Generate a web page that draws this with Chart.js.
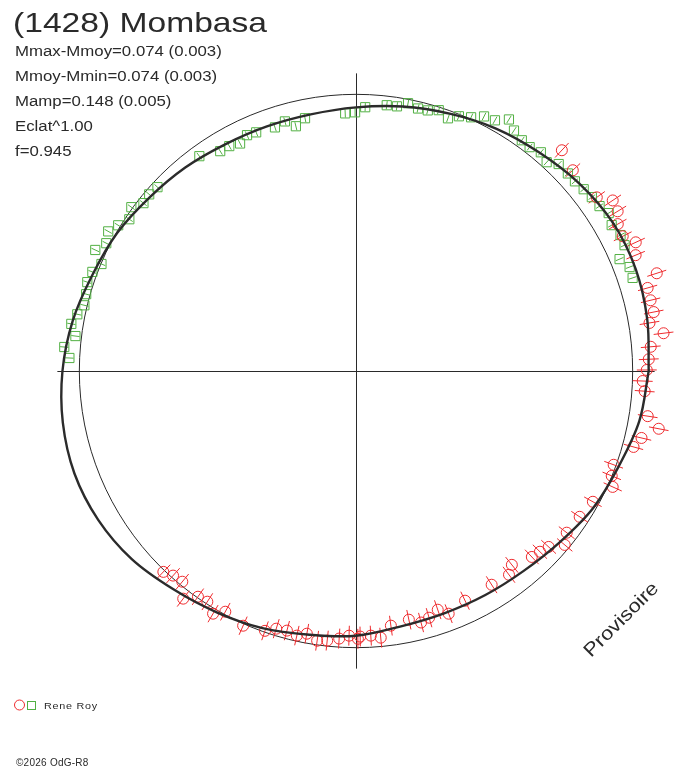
<!DOCTYPE html>
<html>
<head>
<meta charset="utf-8">
<script src="https://cdn.jsdelivr.net/npm/chart.js@4.4.1/dist/chart.umd.min.js"></script>
<style>
  html, body { margin: 0; padding: 0; background: #fff; overflow: hidden; }
  #wrap { width: 688px; height: 768px; }
  canvas { display: block; }
</style>
</head>
<body>
<div id="wrap"><canvas id="chart" width="688" height="768"></canvas></div>
<script>
// polar lightcurve: phase in degrees, radius relative to the mean-magnitude circle (=1)
const titleText = '(1428) Mombasa';
const statLines = ['Mmax-Mmoy=0.074 (0.003)', 'Mmoy-Mmin=0.074 (0.003)', 'Mamp=0.148 (0.005)', 'Eclat^1.00', 'f=0.945'];
const observer = 'Rene Roy';

// fitted curve, read every 10 degrees
const curvePhase = [0, 10, 20, 30, 40, 50, 60, 70, 80, 90, 100, 110, 120, 130, 140, 150, 160, 170,
  180, 190, 200, 210, 220, 230, 240, 250, 260, 270, 280, 290, 300, 310, 320, 330, 340, 350];
const curveRadius = [1.058, 1.069, 1.076, 1.072, 1.054, 1.031, 1.012, 0.990, 0.971, 0.953, 0.942, 0.941, 0.946, 0.960, 0.975, 0.997, 1.014, 1.040,
  1.061, 1.076, 1.083, 1.076, 1.058, 1.029, 1.007, 0.989, 0.968, 0.957, 0.937, 0.932, 0.935, 0.943, 0.962, 0.990, 1.010, 1.040];

// session 1 (green squares)
const greenPhase = [18.6, 20.8, 23.0, 25.1, 27.2, 29.7, 32.0, 34.1, 36.4, 38.6, 40.9, 43.0, 45.6, 47.6, 49.8, 52.2, 54.3, 56.7, 58.7, 61.0,
  63.3, 65.6, 68.0, 70.0, 72.4, 74.6, 76.7, 79.0, 81.2, 83.4, 88.0, 90.2, 92.4, 101.4, 103.8, 105.9, 108.4, 112.7, 114.8, 117.0,
  119.4, 121.7, 126.1, 137.2, 139.5, 141.7, 143.9, 146.2, 148.5, 150.6, 152.9, 155.1, 157.2, 159.4, 161.7, 164.1, 166.4, 168.5,
  170.6, 172.9, 175.3, 177.4];
const greenRadius = [1.055, 1.058, 1.035, 1.072, 1.075, 1.064, 1.077, 1.063, 1.059, 1.053, 1.047, 1.047, 1.047, 1.022, 1.035, 1.024, 1.027, 1.040, 1.064, 1.036,
  1.030, 1.007, 0.993, 0.972, 0.989, 0.977, 0.975, 0.986, 0.968, 0.967, 0.954, 0.935, 0.932, 0.932, 0.911, 0.938, 0.928, 0.935, 0.939, 0.923,
  0.933, 0.934, 0.961, 0.978, 0.983, 0.979, 1.005, 0.986, 1.008, 1.028, 1.014, 1.039, 0.998, 1.018, 1.023, 1.014, 1.010, 1.028,
  1.043, 1.022, 1.058, 1.037];
const greenError = 0.015;

// session 2 (red circles)
const redPhase = [0.2, 2.3, 4.7, 7.0, 9.3, 11.2, 13.5, 15.9, 18.0, 22.5, 24.7, 26.8, 29.3, 31.4, 33.6, 35.8, 42.8, 47.0,
  226.2, 228.2, 230.5, 232.8, 235.0, 237.2, 239.5, 241.5, 246.1, 250.7, 252.8, 255.1, 257.4, 259.4, 261.8, 263.9, 266.4, 268.5,
  270.4, 270.9, 273.2, 275.3, 277.8, 282.0, 284.5, 286.5, 288.9, 290.9, 295.4, 302.4, 306.9, 308.8, 313.4, 315.5, 317.6, 320.2,
  322.5, 326.9, 331.1, 335.7, 337.7, 340.0, 344.7, 346.8, 349.2, 351.2, 356.0, 358.0];
const redRadius = [1.051, 1.059, 1.069, 1.120, 1.075, 1.097, 1.095, 1.096, 1.143, 1.094, 1.113, 1.080, 1.085, 1.108, 1.114, 1.073, 1.068, 1.091,
  1.006, 0.992, 0.987, 1.033, 0.996, 0.992, 1.018, 0.990, 1.007, 0.995, 0.975, 0.971, 0.980, 0.966, 0.985, 0.980, 0.969, 0.957,
  0.968, 0.960, 0.958, 0.968, 0.929, 0.919, 0.939, 0.930, 0.912, 0.939, 0.919, 0.915, 0.921, 0.899, 0.925, 0.932, 0.943, 0.982,
  0.960, 0.965, 0.978, 1.018, 0.999, 0.991, 1.040, 1.060, 1.114, 1.067, 1.046, 1.037];
const redError = 0.036;

// how far the two axis lines reach, in radius units
const axisReachX = 1.0794;
const axisReachY = 1.0758;

const GREEN = '#52b043';
const RED = '#ee2b2e';
const INK = '#2a2a2a';
const FONT = '"Liberation Sans", Arial, sans-serif';

const toXY = (phase, radius) => phase.map((p, i) => {
  const a = p * Math.PI / 180;
  return { x: radius[i] * Math.cos(a), y: radius[i] * Math.sin(a) };
});

const curvePoints = toXY(curvePhase, curveRadius);
curvePoints.push(curvePoints[0]);

function drawText(ctx, s, x, y, size, stretch, spacing, angle) {
  ctx.save();
  ctx.translate(x, y);
  if (angle) ctx.rotate(angle);
  ctx.scale(stretch, 1);
  ctx.font = size + 'px ' + FONT;
  ctx.letterSpacing = spacing + 'px';
  ctx.fillStyle = INK;
  ctx.textBaseline = 'alphabetic';
  ctx.fillText(s, 0, 0);
  ctx.restore();
}

const polarFrame = {
  id: 'polarFrame',
  beforeDatasetsDraw(chart) {
    const { ctx, scales: { x, y } } = chart;
    const cx = x.getPixelForValue(0), cy = y.getPixelForValue(0);
    ctx.save();
    ctx.strokeStyle = INK;
    ctx.lineWidth = 1;
    ctx.beginPath();
    ctx.moveTo(x.getPixelForValue(-axisReachX), cy + 0.5);
    ctx.lineTo(x.getPixelForValue(axisReachX), cy + 0.5);
    ctx.moveTo(cx + 0.5, y.getPixelForValue(axisReachY));
    ctx.lineTo(cx + 0.5, y.getPixelForValue(-axisReachY));
    ctx.stroke();
    // mean magnitude circle
    ctx.beginPath();
    ctx.ellipse(cx, cy, x.getPixelForValue(1) - cx, cy - y.getPixelForValue(1), 0, 0, Math.PI * 2);
    ctx.stroke();
    // radial error bars
    chart.data.datasets.forEach(ds => {
      if (!ds.phase) return;
      ctx.strokeStyle = ds.borderColor;
      ctx.beginPath();
      ds.phase.forEach((p, i) => {
        const t = p * Math.PI / 180, r = ds.radius[i];
        const r0 = r - ds.err, r1 = r + ds.err;
        ctx.moveTo(x.getPixelForValue(r0 * Math.cos(t)), y.getPixelForValue(r0 * Math.sin(t)));
        ctx.lineTo(x.getPixelForValue(r1 * Math.cos(t)), y.getPixelForValue(r1 * Math.sin(t)));
      });
      ctx.stroke();
    });
    ctx.restore();
  },
  afterDraw(chart) {
    const ctx = chart.ctx;
    drawText(ctx, titleText, 13, 32, 28, 1.2, 0, 0);
    statLines.forEach((s, i) => drawText(ctx, s, 15, 56 + i * 25, 14, 1.2, 0, 0));
    drawText(ctx, 'Provisoire', 591, 658, 19, 1.15, 0, -Math.PI / 4);

    // legend
    ctx.save();
    ctx.lineWidth = 1;
    ctx.strokeStyle = RED;
    ctx.beginPath();
    ctx.arc(19.5, 705, 5, 0, Math.PI * 2);
    ctx.stroke();
    ctx.strokeStyle = GREEN;
    ctx.strokeRect(27.5, 701.5, 8, 8);
    ctx.restore();
    drawText(ctx, observer, 44, 709, 9, 1.2, 0.6, 0);
    drawText(ctx, '\u00a92026 OdG-R8', 16, 766, 10, 1, 0.25, 0);
  }
};

new Chart(document.getElementById('chart'), {
  type: 'scatter',
  data: {
    datasets: [
      {
        label: 'fit',
        type: 'line',
        data: curvePoints,
        borderColor: '#2b2b2b',
        borderWidth: 2.4,
        pointRadius: 0,
        tension: 0.35,
        fill: false,
        clip: false,
        order: 0
      },
      {
        label: observer,
        data: toXY(redPhase, redRadius),
        phase: redPhase, radius: redRadius, err: redError,
        pointStyle: 'circle',
        pointRadius: 5.5,
        borderColor: RED,
        backgroundColor: 'rgba(0,0,0,0)',
        borderWidth: 1,
        clip: false,
        order: 1
      },
      {
        label: observer,
        data: toXY(greenPhase, greenRadius),
        phase: greenPhase, radius: greenRadius, err: greenError,
        pointStyle: 'rect',
        pointRadius: 6.5,
        borderColor: GREEN,
        backgroundColor: 'rgba(0,0,0,0)',
        borderWidth: 1,
        clip: false,
        order: 2
      }
    ]
  },
  options: {
    responsive: false,
    animation: false,
    events: [],
    layout: { autoPadding: false, padding: { left: 24, right: 0, top: 39, bottom: 65 } },
    scales: {
      x: { type: 'linear', min: -1.2, max: 1.2, display: false },
      y: { type: 'linear', min: -1.2, max: 1.2, display: false }
    },
    plugins: {
      legend: { display: false },
      tooltip: { enabled: false },
      title: { display: false }
    }
  },
  plugins: [polarFrame]
});
</script>
</body>
</html>
